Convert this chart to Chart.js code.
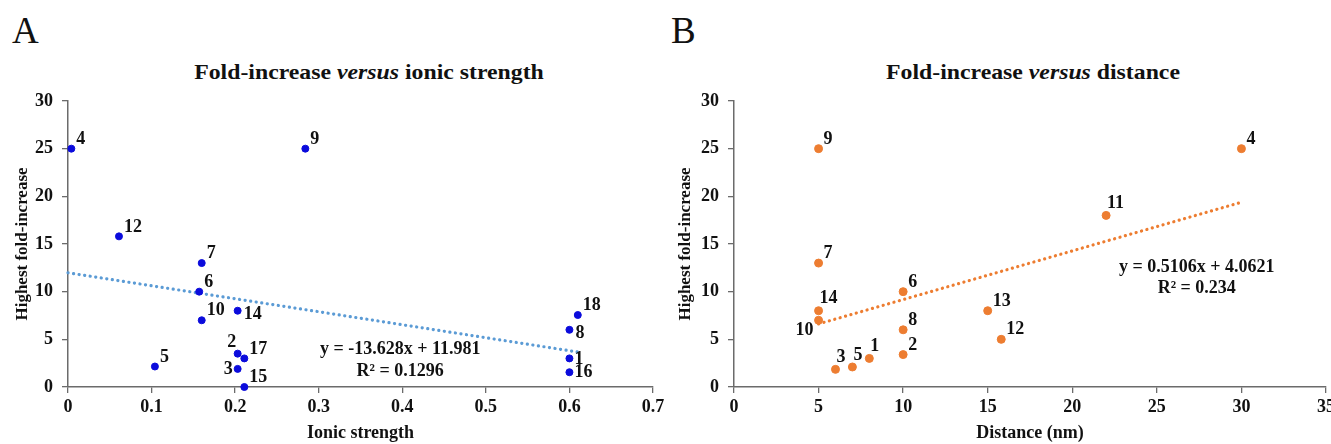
<!DOCTYPE html>
<html>
<head>
<meta charset="utf-8">
<script src="https://cdn.jsdelivr.net/npm/chart.js@4.4.0/dist/chart.umd.min.js"></script>
<style>
  body { margin: 0; background: #fff; width: 1331px; height: 444px; overflow: hidden; position: relative; font-family: "Liberation Serif", serif; color: #111; }
  .panel { position: absolute; top: 0; height: 444px; }
  .letter { position: absolute; top: 9px; font-size: 37px; }
  .title { position: absolute; top: 59px; font-weight: bold; font-size: 22px; transform: translateX(-50%) scaleX(1.08); white-space: nowrap; }
</style>
</head>
<body>
<div class="letter" style="left:12px">A</div>
<div class="letter" style="left:671px">B</div>
<div class="title" style="left:369px">Fold-increase <i>versus</i> ionic strength</div>
<div class="title" style="left:1033px">Fold-increase <i>versus</i> distance</div>
<div class="panel" style="left:0;width:665px"><canvas id="chartA"></canvas></div>
<div class="panel" style="left:665px;width:666px"><canvas id="chartB"></canvas></div>
<script>
// panel A: ionic strength
var labelsA = ["1", "2", "3", "4", "5", "6", "7", "8", "9", "10", "12", "14", "15", "16", "17", "18"];
var ionicA = [0.6, 0.203, 0.203, 0.004, 0.104, 0.157, 0.16, 0.6, 0.284, 0.16, 0.061, 0.203, 0.211, 0.6, 0.211, 0.61];
var foldA = [3.0, 3.5, 1.9, 25, 2.15, 10, 13, 6.0, 25, 7.0, 15.8, 8.0, 0, 1.55, 3.0, 7.55];
var trendXA = [0, 0.61];
var trendYA = [11.98, 3.67];

// panel B: distance
var labelsB = ["1", "2", "3", "4", "5", "6", "7", "8", "9", "10", "11", "12", "13", "14"];
var distB = [8, 10, 6, 30, 7, 10, 5, 10, 5, 5, 22, 15.8, 15, 5];
var foldB = [3.0, 3.4, 1.85, 25, 2.1, 10, 13, 6, 25, 7, 18, 5, 8, 8];
var trendXB = [5, 30];
var trendYB = [6.62, 19.38];

// where each number sits next to its dot
var dirsA = ["e", "nw", "w", "ne", "ne", "ne", "ne", "se", "ne", "ne", "ne", "se", "ne", "e", "ne", "ne"];
var dirsB = ["n", "ne", "n", "ne", "n", "ne", "ne", "ne", "ne", "sw", "n", "ne", "ne", "n"];

var FONT = "'Liberation Serif', 'Times New Roman', serif";
var offsets = {
  ne: [5, -9.5, "left"],
  n: [1, -12, "left"],
  e: [5, 0.5, "left"],
  se: [6, 4, "left"],
  nw: [-1.5, -11, "right"],
  w: [-5, 0, "right"],
  sw: [-5, 10, "right"],
};

var pointLabels = {
  id: "pointLabels",
  afterDatasetsDraw(chart, args, opts) {
    var ctx = chart.ctx;
    var meta = chart.getDatasetMeta(0);
    ctx.save();
    ctx.font = "bold 18px " + FONT;
    ctx.fillStyle = "#111";
    ctx.textBaseline = "middle";
    meta.data.forEach((pt, i) => {
      var o = offsets[opts.dirs[i]];
      ctx.textAlign = o[2];
      ctx.fillText(opts.labels[i], pt.x + o[0], pt.y + o[1]);
    });
    var xs = chart.scales.x;
    var ys = chart.scales.y;
    ctx.textAlign = "center";
    ctx.fillText(opts.eq, xs.getPixelForValue(opts.eqAt[0]), ys.getPixelForValue(opts.eqAt[1]));
    ctx.fillText(opts.r2, xs.getPixelForValue(opts.eqAt[0]), ys.getPixelForValue(opts.eqAt[2]));
    ctx.restore();
  },
};

const toPoints = (xs, ys) => xs.map((x, i) => ({ x: x, y: ys[i] }));

function makeChart(id, cfg) {
  var tickFont = { family: FONT, size: 18, weight: "bold" };
  return new Chart(document.getElementById(id), {
    type: "scatter",
    data: {
      datasets: [
        {
          data: toPoints(cfg.xs, cfg.ys),
          backgroundColor: cfg.color,
          borderColor: cfg.color,
          pointRadius: cfg.radius,
          pointHoverRadius: cfg.radius,
          clip: false,
        },
        {
          type: "line",
          data: toPoints(cfg.trendX, cfg.trendY),
          borderColor: cfg.trendColor,
          borderWidth: 3.2,
          borderDash: [0.1, 5.5],
          borderCapStyle: "round",
          pointRadius: 0,
          fill: false,
          clip: false,
        },
      ],
    },
    options: {
      responsive: true,
      maintainAspectRatio: false,
      animation: false,
      events: [],
      layout: { padding: { left: 0, top: 101, right: cfg.padRight, bottom: 0 } },
      plugins: {
        legend: { display: false },
        tooltip: { enabled: false },
        pointLabels: cfg.labelOpts,
      },
      scales: {
        x: {
          type: "linear",
          min: cfg.xMin,
          max: cfg.xMax,
          ticks: { stepSize: cfg.xStep, font: tickFont, color: "#111", padding: 4, maxRotation: 0 },
          grid: { drawOnChartArea: false, drawTicks: true, tickLength: 6, color: "#6b6b6b", lineWidth: 1.3 },
          border: { display: true, color: "#6b6b6b", width: 1.5 },
          title: { display: true, text: cfg.xTitle, font: { family: FONT, size: 18, weight: "bold" }, color: "#111", padding: { top: 0, bottom: 0 } },
          afterFit: (axis) => {
            axis.height = 57;
            axis.paddingLeft = 0;
            axis.paddingRight = 0;
          },
        },
        y: {
          type: "linear",
          min: 0,
          max: 30,
          ticks: { stepSize: 5, font: tickFont, color: "#111", padding: 9 },
          grid: { drawOnChartArea: false, drawTicks: true, tickLength: 6, color: "#6b6b6b", lineWidth: 1.3 },
          border: { display: true, color: "#6b6b6b", width: 1.5 },
          title: { display: true, text: "Highest fold-increase", font: { family: FONT, size: 17, weight: "bold" }, color: "#111", padding: { top: cfg.yTitlePad, bottom: 0 } },
          afterFit: (axis) => {
            axis.width = cfg.yWidth;
            axis.paddingTop = 0;
            axis.paddingBottom = 0;
          },
        },
      },
    },
    plugins: [pointLabels],
  });
}

makeChart("chartA", {
  xs: ionicA,
  ys: foldA,
  trendX: trendXA,
  trendY: trendYA,
  color: "#0b0bdc",
  radius: 3.5,
  trendColor: "#5b9bd5",
  xMin: 0,
  xMax: 0.7,
  xStep: 0.1,
  xTitle: "Ionic strength",
  padRight: 12,
  yWidth: 68,
  yTitlePad: 12,
  labelOpts: { labels: labelsA, dirs: dirsA, eq: "y = -13.628x + 11.981", r2: "R² = 0.1296", eqAt: [0.3975, 3.9, 1.6] },
});

makeChart("chartB", {
  xs: distB,
  ys: foldB,
  trendX: trendXB,
  trendY: trendYB,
  color: "#ed7d31",
  radius: 4,
  trendColor: "#ed7d31",
  xMin: 0,
  xMax: 35,
  xStep: 5,
  xTitle: "Distance (nm)",
  padRight: 2,
  yWidth: 69,
  yTitlePad: 10,
  labelOpts: { labels: labelsB, dirs: dirsB, eq: "y = 0.5106x + 4.0621", r2: "R² = 0.234", eqAt: [27.36, 12.5, 10.3] },
});
</script>
</body>
</html>
